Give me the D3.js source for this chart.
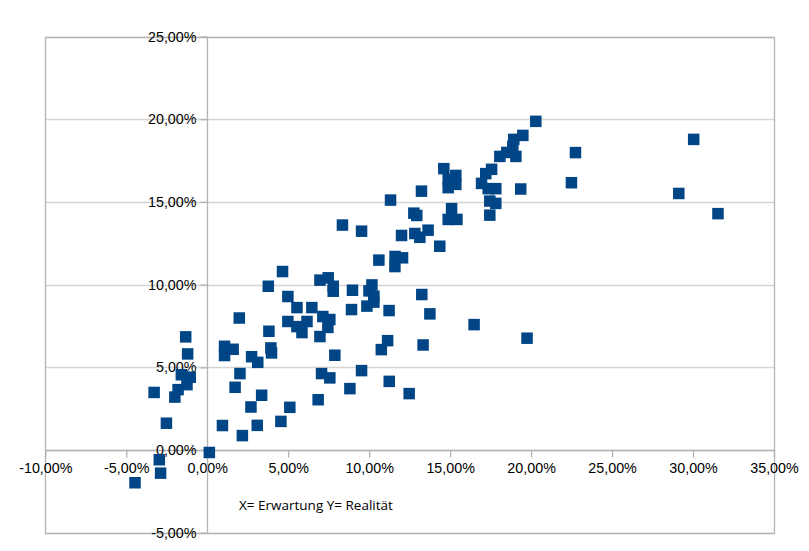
<!DOCTYPE html>
<html>
<head>
<meta charset="utf-8">
<script src="https://cdn.jsdelivr.net/npm/d3@7"></script>
<style>
html,body{margin:0;padding:0;background:#fff;}
svg{display:block;}
</style>
</head>
<body>
<svg id="chart" width="809" height="551"></svg>
<script>
// Data: X = Erwartung (%), Y = Realität (%)
const xValues = [
 -4.46,-2.96,-2.88,-3.28,-2.52,0.13,-1.33,-1.21,-1.6,-1.05,-1.25,-1.8,-2.0,
 1.07,1.6,1.07,2.02,1.72,3.36,2.7,0.94,3.09,2.17,4.55,5.1,1.98,3.81,3.93,3.97,2.74,3.12,3.77,4.65,
 4.98,5.54,6.46,7.14,7.57,4.98,5.54,6.16,5.85,6.96,7.45,6.96,7.47,7.78,7.78,6.85,7.06,7.57,7.88,
 8.97,8.91,10.17,9.99,10.29,10.29,9.86,11.23,8.81,9.53,11.24,10.75,11.14,8.35,9.53,10.6,11.6,12.06,11.59,
 11.32,12.0,12.82,13.13,13.64,14.36,12.76,12.94,13.23,13.25,13.75,13.33,12.47,16.48,19.75,
 15.09,14.88,15.42,14.61,15.35,14.88,15.35,14.88,17.56,17.2,16.94,17.35,17.82,19.36,17.45,17.82,17.45,
 20.29,19.49,18.93,18.87,18.07,18.5,19.06,22.74,22.49,30.04,29.12,31.54
];
const yValues = [
 -1.98,-0.59,-1.40,3.48,1.62,-0.15,6.84,5.81,4.55,4.4,3.95,3.65,3.2,
 6.27,6.09,5.71,4.62,3.79,3.31,2.6,1.48,1.49,0.87,1.73,2.58,7.98,7.18,6.17,5.87,5.64,5.3,9.9,10.79,
 9.28,8.61,8.61,8.07,7.89,7.77,7.46,7.77,7.1,6.86,7.41,10.27,10.41,9.9,9.6,3.04,4.62,4.36,5.73,
 9.66,8.49,9.98,9.62,9.3,8.94,8.7,8.43,3.71,4.8,4.15,6.07,6.61,13.6,13.23,11.48,11.7,11.62,11.09,
 15.11,12.97,13.09,12.86,13.29,12.32,14.32,14.18,15.65,9.4,8.23,6.35,3.41,7.58,6.76,
 14.59,13.94,13.94,17.01,16.6,16.36,16.06,15.86,16.97,16.71,16.12,15.8,15.8,15.78,15.05,14.91,14.2,
 19.87,19.02,18.78,18.36,17.75,17.99,17.75,17.98,16.16,18.78,15.51,14.29
];
const xTicks = [-10,-5,0,5,10,15,20,25,30,35];
const yTicks = [-5,0,5,10,15,20,25];
const caption = "X= Erwartung Y= Realität";

const fmt = v => (v < 0 ? "-" : "") + Math.abs(v).toFixed(2).replace(".", ",") + "%";

const svg = d3.select("#chart");
const x = d3.scaleLinear().domain([-10, 35]).range([45.3, 774]);
const y = d3.scaleLinear().domain([-5, 25]).range([532.7, 36.5]);

const gridColor = "#d4d4d4";
const axisColor = "#b3b3b3";

// horizontal gridlines
svg.append("g").selectAll("line").data(yTicks).join("line")
  .attr("x1", x(-10)).attr("x2", x(35))
  .attr("y1", d => Math.round(y(d)) + 0.5).attr("y2", d => Math.round(y(d)) + 0.5)
  .attr("stroke", gridColor).attr("stroke-width", 1.3);

// frame
svg.append("rect")
  .attr("x", Math.round(x(-10)) + 0.5).attr("y", Math.round(y(25)) + 0.5)
  .attr("width", Math.round(x(35)) - Math.round(x(-10)))
  .attr("height", Math.round(y(-5)) - Math.round(y(25)))
  .attr("fill", "none").attr("stroke", axisColor).attr("stroke-width", 1.3);

// axes through origin
const xAxis = d3.axisBottom(x).tickValues(xTicks).tickFormat(fmt).tickSize(7).tickPadding(5);
const yAxis = d3.axisLeft(y).tickValues(yTicks).tickFormat(fmt).tickSize(7).tickPadding(4);

const gx = svg.append("g").attr("transform", `translate(0,${Math.round(y(0)) + 0.5})`).call(xAxis);
const gy = svg.append("g").attr("transform", `translate(${Math.round(x(0)) + 0.5},0)`).call(yAxis);

[gx, gy].forEach(g => {
  g.select(".domain").attr("stroke", axisColor).attr("stroke-width", 1.3);
  g.selectAll(".tick line").attr("stroke", axisColor).attr("stroke-width", 1.3);
  g.selectAll(".tick text").attr("fill", "#000")
    .style("font-family", "'Liberation Sans', Arial, sans-serif").style("font-size", "14.3px");
});
gx.select(".domain").attr("d", `M${x(-10)},0H${x(35)}`);
gy.select(".domain").attr("d", `M0,${y(-5)}V${y(25)}`);
gy.selectAll(".tick text").attr("x", -11);

// points
const pts = xValues.map((v, i) => [v, yValues[i]]);
const s = 11.5;
svg.append("g").selectAll("rect").data(pts).join("rect")
  .attr("x", d => x(d[0]) - s / 2).attr("y", d => y(d[1]) - s / 2)
  .attr("width", s).attr("height", s)
  .attr("fill", "#004586");

// caption
svg.append("text")
  .attr("x", 239).attr("y", 510)
  .style("font-family", "'Open Sans', sans-serif").style("font-size", "13.5px")
  .attr("fill", "#000")
  .text(caption);
</script>
</body>
</html>
